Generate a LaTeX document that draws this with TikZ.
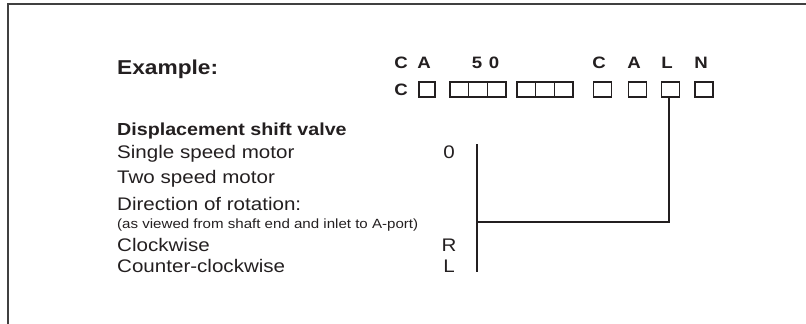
\documentclass[tikz,border=0pt]{standalone}
\usepackage{fontspec}
\setmainfont{Liberation Sans}[FakeStretch=1.13]
\usepackage{tikz}
\usetikzlibrary{calc}

\definecolor{ink}{RGB}{35,31,32}

\tikzset{
  txt/.style={anchor=base west, inner sep=0pt, text=ink, font=\fontsize{18.2}{20}\selectfont},
  code/.style={anchor=base, inner sep=0pt, text=ink, font=\fontsize{18.2}{20}\selectfont},
  key/.style={anchor=base, inner sep=0pt, text=ink, font=\bfseries\fontsize{16.5}{18}\selectfont},
  cell/.style={draw=ink, line width=1.3pt, inner sep=0pt, minimum height=15pt},
  link/.style={draw=ink, line width=1.3pt}
}

\begin{document}
\begin{tikzpicture}[x=1pt, y=-1pt]

\useasboundingbox (0,0) rectangle (806,324);

% Open frame, top and left edges only
\draw[line width=1.5pt, black!75] (806,4) -- (8,4) -- (8,324);

% Heading
\node[txt, font=\bfseries\fontsize{20.1}{22}\selectfont] (head) at (117,74) {Example:};

% Example code, one letter per position
\foreach \x/\lbl/\nm in {401/C/kc, 424/A/ka, 477/5/kfive, 494/0/kzero,
  599/C/kc2, 634/A/ka2, 667/L/kl, 701/N/kn}{
  \node[key] (\nm) at (\x,68.5) {\lbl};
}

% Ordering code boxes
\node[key] (lead) at (401,95) {C};
\foreach \x/\w/\nm in {427/16/b1,
  459.3/18.7/b2, 478/18.7/b3, 496.7/18.7/b4,
  526.3/18.7/b5, 545/18.7/b6, 563.7/18.7/b7,
  602.5/18/b8, 637.5/18/b9, 670.5/18/b10, 704/18/b11}{
  \node[cell, minimum width=\w pt] (\nm) at (\x,89.5) {};
}

% Option list
\node[txt, font=\bfseries\fontsize{17.4}{20}\selectfont] (sec) at (117,135) {Displacement shift valve};
\node[txt] (single) at (117,158) {Single speed motor};
\node[txt] (two) at (117,183) {Two speed motor};
\node[txt] (dir) at (117,210) {Direction of rotation:};
\node[txt, font=\fontsize{13.35}{15}\selectfont] (note) at (117,228) {(as viewed from shaft end and inlet to A-port)};
\node[txt] (cw) at (117,251) {Clockwise};
\node[txt] (ccw) at (117,272) {Counter-clockwise};

% Option codes
\node[code] (c0) at (449,158) {0};
\node[code] (cR) at (449,251) {R};
\node[code] (cL) at (449,272) {L};

% Bracket to the L position
\coordinate (bartop) at (477,144);
\coordinate (barbot) at (477,272);
\coordinate (join) at (477,222);
\draw[link] (bartop) -- (barbot);
\draw[link] ([xshift=-1.5pt]b10.south) |- (join);

\end{tikzpicture}
\end{document}
